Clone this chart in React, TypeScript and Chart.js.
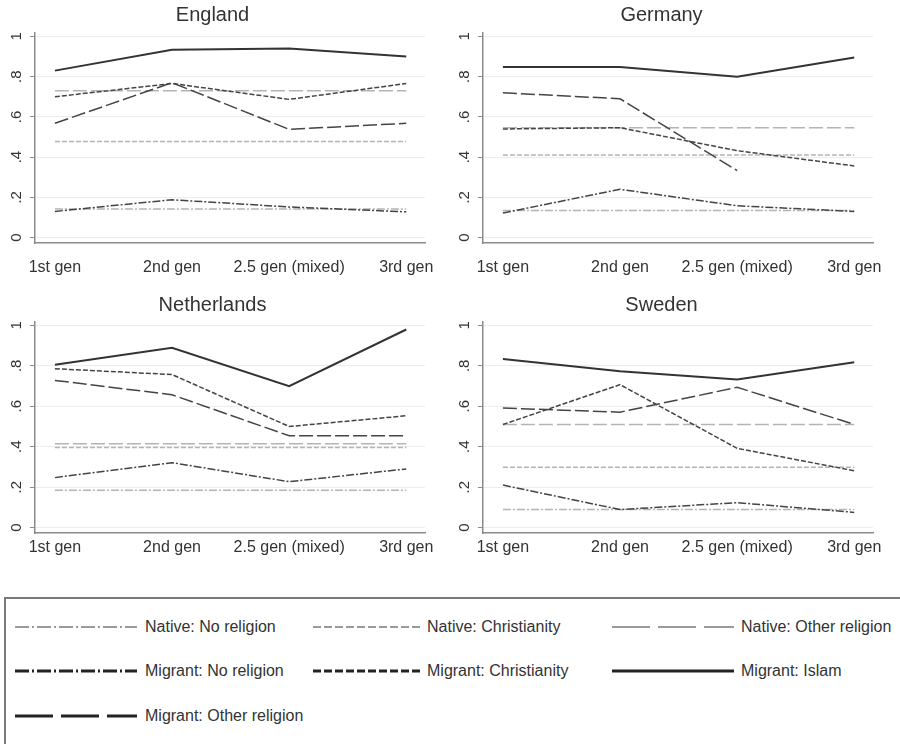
import { useEffect, useRef } from "react";
import { Chart, registerables } from "chart.js";

Chart.register(...registerables);

// ---------- data ----------
const generations = ["1st gen", "2nd gen", "2.5 gen (mixed)", "3rd gen"];
const yTickValues = [0, 0.2, 0.4, 0.6, 0.8, 1];
const yTickLabels = ["0", ".2", ".4", ".6", ".8", "1"];
const seriesNames = [
  "Native: No religion",
  "Native: Christianity",
  "Native: Other religion",
  "Migrant: No religion",
  "Migrant: Christianity",
  "Migrant: Islam",
  "Migrant: Other religion",
];

// England
const englandNativeNoReligion = [0.142, 0.142, 0.142, 0.142];
const englandNativeChristianity = [0.477, 0.477, 0.477, 0.477];
const englandNativeOther = [0.73, 0.73, 0.73, 0.73];
const englandMigrantNoReligion = [0.13, 0.188, 0.152, 0.128];
const englandMigrantChristianity = [0.7, 0.766, 0.687, 0.766];
const englandMigrantIslam = [0.83, 0.934, 0.94, 0.9];
const englandMigrantOther = [0.568, 0.77, 0.538, 0.568];

// Germany
const germanyNativeNoReligion = [0.135, 0.135, 0.135, 0.135];
const germanyNativeChristianity = [0.41, 0.41, 0.41, 0.41];
const germanyNativeOther = [0.546, 0.546, 0.546, 0.546];
const germanyMigrantNoReligion = [0.122, 0.24, 0.158, 0.13];
const germanyMigrantChristianity = [0.54, 0.546, 0.432, 0.356];
const germanyMigrantIslam = [0.848, 0.848, 0.8, 0.895];
const germanyMigrantOther = [0.72, 0.69, 0.333, null];

// Netherlands
const netherlandsNativeNoReligion = [0.185, 0.185, 0.185, 0.185];
const netherlandsNativeChristianity = [0.396, 0.396, 0.396, 0.396];
const netherlandsNativeOther = [0.414, 0.414, 0.414, 0.414];
const netherlandsMigrantNoReligion = [0.247, 0.321, 0.227, 0.29];
const netherlandsMigrantChristianity = [0.786, 0.757, 0.5, 0.553];
const netherlandsMigrantIslam = [0.806, 0.889, 0.699, 0.98];
const netherlandsMigrantOther = [0.728, 0.657, 0.454, 0.454];

// Sweden
const swedenNativeNoReligion = [0.089, 0.089, 0.089, 0.089];
const swedenNativeChristianity = [0.298, 0.298, 0.298, 0.298];
const swedenNativeOther = [0.51, 0.51, 0.51, 0.51];
const swedenMigrantNoReligion = [0.21, 0.089, 0.123, 0.075];
const swedenMigrantChristianity = [0.51, 0.707, 0.392, 0.281];
const swedenMigrantIslam = [0.834, 0.773, 0.732, 0.818];
const swedenMigrantOther = [0.591, 0.571, 0.694, 0.51];

// ---------- styles ----------
const FONT = '"Liberation Sans", Arial, Helvetica, sans-serif';
const TEXT = "#333333";
const NATIVE = "#b4b4b4";
const MIGRANT = "#444444";
const AXIS = "#8a8a8a";

const plotStyles = [
  { color: NATIVE, dash: [8, 2, 2, 2], width: 1.5, order: 1 },
  { color: NATIVE, dash: [5, 2], width: 1.5, order: 1 },
  { color: NATIVE, dash: [14, 4], width: 1.5, order: 1 },
  { color: MIGRANT, dash: [8, 2, 2, 2], width: 1.5, order: 0 },
  { color: MIGRANT, dash: [5, 2], width: 1.5, order: 0 },
  { color: "#333333", dash: [], width: 2, order: 0 },
  { color: MIGRANT, dash: [14, 4], width: 1.5, order: 0 },
];

const legendStyles = [
  { color: "#9a9a9a", dash: "14 3 2 3", width: 2 },
  { color: "#9a9a9a", dash: "8 3", width: 2 },
  { color: "#9a9a9a", dash: "38 8", width: 2 },
  { color: "#222222", dash: "14 3 2 3", width: 3 },
  { color: "#222222", dash: "8 3", width: 3 },
  { color: "#222222", dash: "", width: 3 },
  { color: "#222222", dash: "38 8", width: 3 },
];

type PanelProps = {
  title: string;
  series: (number | null)[][];
  left: number;
  top: number;
  row: "top" | "bottom";
  side: "left" | "right";
};

function Panel({ title, series, left, top, row, side }: PanelProps) {
  const ref = useRef<HTMLCanvasElement | null>(null);
  useEffect(() => {
    if (!ref.current) return;
    const isTop = row === "top";
    const chart = new Chart(ref.current, {
      type: "line",
      data: {
        datasets: series.map((vals, si) => ({
          label: seriesNames[si],
          data: vals.map((v, i) => ({ x: i, y: v })),
          borderColor: plotStyles[si].color,
          borderDash: plotStyles[si].dash,
          borderWidth: plotStyles[si].width,
          order: plotStyles[si].order,
          pointRadius: 0,
          tension: 0,
          fill: false,
          spanGaps: false,
        })),
      },
      options: {
        animation: false,
        responsive: false,
        maintainAspectRatio: false,
        devicePixelRatio: 1,
        layout: {
          padding: { left: 0, right: side === "left" ? 25 : 27, top: 0, bottom: 0 },
        },
        plugins: {
          legend: { display: false },
          tooltip: { enabled: false },
          title: {
            display: true,
            text: title,
            color: TEXT,
            font: { family: FONT, size: 20, weight: "normal" },
            padding: { top: isTop ? 3 : 13, bottom: isTop ? 6 : 5 },
          },
        },
        scales: {
          x: {
            type: "linear",
            min: -0.17,
            max: 3.16,
            afterBuildTicks: (s: any) => {
              s.ticks = generations.map((_, i) => ({ value: i }));
            },
            afterFit: (s: any) => {
              s.height = isTop ? 37 : 27;
            },
            ticks: {
              autoSkip: false,
              maxRotation: 0,
              minRotation: 0,
              padding: isTop ? 15 : 5,
              color: TEXT,
              font: { family: FONT, size: 16 },
              callback: (v: any) => generations[Math.round(Number(v))] ?? "",
            },
            grid: { display: false, drawTicks: false },
            border: { display: true, color: AXIS, width: 1.5 },
          },
          y: {
            type: "linear",
            min: -0.027,
            max: 1.017,
            afterBuildTicks: (s: any) => {
              s.ticks = yTickValues.map((v) => ({ value: v }));
            },
            afterFit: (s: any) => {
              s.width = side === "left" ? 35 : 33;
            },
            ticks: {
              minRotation: 90,
              maxRotation: 90,
              crossAlign: "center",
              padding: 7,
              color: TEXT,
              font: { family: FONT, size: 15 },
              callback: (_v: any, i: number) => yTickLabels[i] ?? "",
            },
            grid: {
              color: "#ececec",
              lineWidth: 1,
              tickColor: AXIS,
              tickLength: 5,
              drawTicks: true,
            },
            border: { display: true, color: AXIS, width: 1.5 },
          },
        },
      } as any,
    });
    return () => chart.destroy();
  }, [title, series, row, side]);
  return (
    <canvas
      ref={ref}
      width={450}
      height={280}
      style={{ position: "absolute", left, top, width: 450, height: 280 }}
    />
  );
}

const panels: PanelProps[] = [
  {
    title: "England",
    series: [
      englandNativeNoReligion,
      englandNativeChristianity,
      englandNativeOther,
      englandMigrantNoReligion,
      englandMigrantChristianity,
      englandMigrantIslam,
      englandMigrantOther,
    ],
    left: 0,
    top: 0,
    row: "top",
    side: "left",
  },
  {
    title: "Germany",
    series: [
      germanyNativeNoReligion,
      germanyNativeChristianity,
      germanyNativeOther,
      germanyMigrantNoReligion,
      germanyMigrantChristianity,
      germanyMigrantIslam,
      germanyMigrantOther,
    ],
    left: 450,
    top: 0,
    row: "top",
    side: "right",
  },
  {
    title: "Netherlands",
    series: [
      netherlandsNativeNoReligion,
      netherlandsNativeChristianity,
      netherlandsNativeOther,
      netherlandsMigrantNoReligion,
      netherlandsMigrantChristianity,
      netherlandsMigrantIslam,
      netherlandsMigrantOther,
    ],
    left: 0,
    top: 280,
    row: "bottom",
    side: "left",
  },
  {
    title: "Sweden",
    series: [
      swedenNativeNoReligion,
      swedenNativeChristianity,
      swedenNativeOther,
      swedenMigrantNoReligion,
      swedenMigrantChristianity,
      swedenMigrantIslam,
      swedenMigrantOther,
    ],
    left: 450,
    top: 280,
    row: "bottom",
    side: "right",
  },
];

// legend grid: order of items laid out in 3 columns
const legendCols = [
  { lineX: 15, lineLen: 122, textX: 145 },
  { lineX: 313, lineLen: 110, textX: 427 },
  { lineX: 612, lineLen: 122, textX: 741 },
];
const legendRows = [627, 671, 716];

export default function App() {
  return (
    <div
      style={{
        position: "absolute",
        left: 0,
        top: 0,
        width: 900,
        height: 744,
        overflow: "hidden",
        background: "#ffffff",
        fontFamily: FONT,
      }}
    >
      {panels.map((p) => (
        <Panel key={p.title} {...p} />
      ))}
      <div
        style={{
          position: "absolute",
          left: 4,
          top: 597,
          width: 1000,
          height: 200,
          borderTop: "2px solid #7a7a7a",
          borderLeft: "2px solid #7a7a7a",
          boxSizing: "border-box",
        }}
      />
      {seriesNames.map((name, i) => {
        const col = legendCols[i % 3];
        const y = legendRows[Math.floor(i / 3)];
        const st = legendStyles[i];
        return (
          <div key={name}>
            <svg
              width={col.lineLen}
              height={8}
              style={{ position: "absolute", left: col.lineX, top: y - 4 }}
            >
              <line
                x1={0}
                y1={4}
                x2={col.lineLen}
                y2={4}
                stroke={st.color}
                strokeWidth={st.width}
                strokeDasharray={st.dash || undefined}
              />
            </svg>
            <div
              style={{
                position: "absolute",
                left: col.textX,
                top: y - 10,
                height: 20,
                lineHeight: "20px",
                fontSize: 16,
                color: TEXT,
                whiteSpace: "nowrap",
              }}
            >
              {name}
            </div>
          </div>
        );
      })}
    </div>
  );
}
